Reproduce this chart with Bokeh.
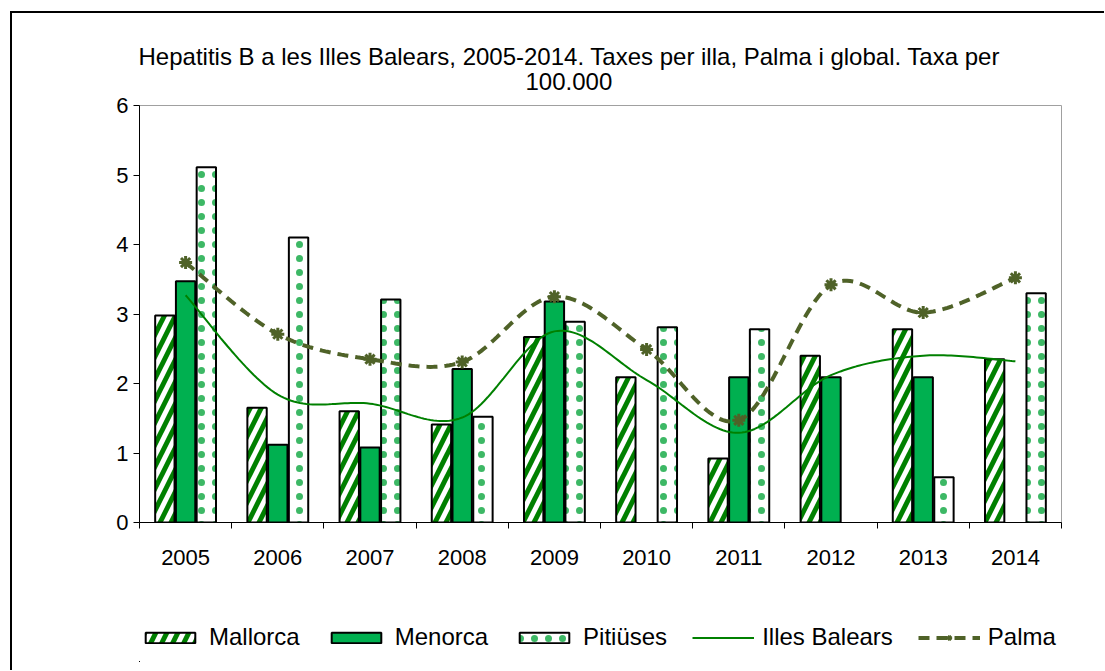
import numpy as np
from bokeh.plotting import figure
from bokeh.layouts import column
from bokeh.models import Range1d, FixedTicker, Legend, LegendItem, Title
from bokeh.embed import file_html
from bokeh.resources import INLINE

years = ["2005", "2006", "2007", "2008", "2009", "2010", "2011", "2012", "2013", "2014"]
mallorca = [2.98, 1.65, 1.60, 1.41, 2.67, 2.09, 0.92, 2.40, 2.78, 2.35]
menorca = [3.47, 1.12, 1.08, 2.21, 3.18, np.nan, 2.09, 2.09, 2.09, np.nan]
pitiuses = [5.11, 4.10, 3.21, 1.52, 2.89, 2.81, 2.78, np.nan, 0.65, 3.30]
illes_balears = [3.27, 1.84, 1.71, 1.51, 2.75, 2.05, 1.29, 2.12, 2.40, 2.32]
palma = [3.74, 2.71, 2.35, 2.31, 3.25, 2.49, 1.47, 3.42, 3.02, 3.52]
y_ticks = [0, 1, 2, 3, 4, 5, 6]
series_names = ["Mallorca", "Menorca", "Pitiüses", "Illes Balears", "Palma"]
title_lines = ["Hepatitis B a les Illes Balears, 2005-2014. Taxes per illa, Palma i global. Taxa per",
               "100.000"]

FONT = "Liberation Sans"
OLIVE = "#4F6228"
GREEN = "#008000"
MGREEN = "#00B050"

centers = [i + 0.5 for i in range(len(years))]

MAL_STYLE = dict(fill_color="white", line_color="black", line_width=2,
                 hatch_pattern="right_diagonal_line", hatch_color=GREEN,
                 hatch_weight=5, hatch_scale=22)
MEN_STYLE = dict(fill_color=MGREEN, line_color="black", line_width=2)
PIT_STYLE = dict(fill_color="white", line_color="black", line_width=2,
                 hatch_pattern="dot", hatch_color="#3DB865",
                 hatch_weight=1, hatch_scale=14)
IB_STYLE = dict(line_color=GREEN, line_width=2)
PL_STYLE = dict(line_color=OLIVE, line_width=4, line_dash="11 7")
PM_STYLE = dict(marker="asterisk", size=13, line_color=OLIVE, line_width=3)


def smooth(xs, ys, n=30):
    pts = np.array(list(zip(xs, ys)), dtype=float)
    ox, oy = [], []
    m = len(pts)
    for i in range(m - 1):
        p0 = pts[i - 1] if i > 0 else pts[i]
        p1 = pts[i]
        p2 = pts[i + 1]
        p3 = pts[i + 2] if i + 2 < m else pts[i + 1]
        c1 = p1 + (p2 - p0) / 6.0
        c2 = p2 - (p3 - p1) / 6.0
        t = np.linspace(0, 1, n)
        if i < m - 2:
            t = t[:-1]
        b = ((1 - t) ** 3)[:, None] * p1 + (3 * (1 - t) ** 2 * t)[:, None] * c1 \
            + (3 * (1 - t) * t ** 2)[:, None] * c2 + (t ** 3)[:, None] * p2
        ox.extend(b[:, 0].tolist())
        oy.extend(b[:, 1].tolist())
    return ox, oy


p = figure(frame_width=922, frame_height=417, output_backend="svg", toolbar_location=None,
           x_range=Range1d(0, 10), y_range=Range1d(0, 6),
           min_border_left=127, min_border_right=43, min_border_top=92,
           min_border_bottom=60)
p.background_fill_color = "white"
p.border_fill_color = "white"
p.outline_line_color = "#A0A0A0"
p.outline_line_width = 1
p.xgrid.grid_line_color = None
p.ygrid.grid_line_color = None
p.title.text = ""
p.title.visible = False

t2 = Title(text=title_lines[1], align="left", text_font=FONT, text_font_size="24px",
           text_font_style="normal", text_color="black", standoff=31, offset=386,
           text_line_height=0.75)
t1 = Title(text=title_lines[0], align="left", text_font=FONT, text_font_size="24px",
           text_font_style="normal", text_color="black", standoff=-28, offset=-1,
           text_line_height=1.0)
p.add_layout(t2, "above")
p.add_layout(t1, "above")

bw = 0.21
off = 0.225
p.vbar(x=[c - off for c in centers], top=mallorca, width=bw, bottom=0, **MAL_STYLE)
p.vbar(x=centers, top=menorca, width=bw, bottom=0, **MEN_STYLE)
p.vbar(x=[c + off for c in centers], top=pitiuses, width=bw, bottom=0, **PIT_STYLE)

sx, sy = smooth(centers, illes_balears)
p.line(sx, sy, **IB_STYLE)
px, py = smooth(centers, palma)
p.line(px, py, **PL_STYLE)
p.scatter(centers, palma, **PM_STYLE)

# axes
xa = p.xaxis[0]
xa.ticker = FixedTicker(ticks=centers, minor_ticks=list(range(len(years) + 1)))
xa.major_label_overrides = {c: y for c, y in zip(centers, years)}
xa.major_tick_line_color = None
xa.minor_tick_line_color = "black"
xa.minor_tick_out = 6
xa.minor_tick_in = 0
xa.axis_line_color = "black"
xa.major_label_text_font = FONT
xa.major_label_text_font_size = "22px"
xa.major_label_text_color = "black"
xa.major_label_standoff = 21

ya = p.yaxis[0]
ya.ticker = FixedTicker(ticks=y_ticks)
ya.minor_tick_line_color = None
ya.major_tick_out = 6
ya.major_tick_in = 0
ya.axis_line_color = "black"
ya.major_label_text_font = FONT
ya.major_label_text_font_size = "22px"
ya.major_label_text_color = "black"
ya.major_label_standoff = 5

# legend strip: a separate figure; its glyphs use the same series but lie outside its view
lf = figure(width=1092, height=80, output_backend="svg", toolbar_location=None,
            x_range=Range1d(100, 101), y_range=Range1d(100, 101),
            x_axis_type=None, y_axis_type=None,
            min_border_left=0, min_border_right=0, min_border_top=0, min_border_bottom=0)
lf.outline_line_color = None
lf.background_fill_color = "white"
lf.border_fill_color = "white"
lf.title.visible = False
g_mal = lf.vbar(x=centers, top=mallorca, width=bw, bottom=0, **MAL_STYLE)
g_men = lf.vbar(x=centers, top=menorca, width=bw, bottom=0, **MEN_STYLE)
g_pit = lf.vbar(x=centers, top=pitiuses, width=bw, bottom=0, **PIT_STYLE)
g_ib = lf.line(x=centers, y=illes_balears, **IB_STYLE)
g_pl = lf.line(x=centers, y=palma, **PL_STYLE)
g_pm = lf.scatter(x=centers, y=palma, **PM_STYLE)

legend = Legend(items=[
    LegendItem(label=series_names[0], renderers=[g_mal]),
    LegendItem(label=series_names[1], renderers=[g_men]),
    LegendItem(label=series_names[2], renderers=[g_pit]),
    LegendItem(label=series_names[3], renderers=[g_ib]),
    LegendItem(label=series_names[4], renderers=[g_pl, g_pm]),
], orientation="horizontal", location=(0, 11),
    glyph_width=62, glyph_height=13, label_standoff=8, spacing=25,
    padding=0, margin=0, border_line_color=None, background_fill_alpha=0,
    label_text_font=FONT, label_text_font_size="24px", label_text_color="black")
lf.add_layout(legend)

layout = column(p, lf, spacing=0)
layout.styles = {"border-left": "2px solid black", "border-top": "2px solid black",
                 "margin-left": "10px", "margin-top": "11px", "padding-bottom": "8px"}

open("out.html", "w").write(file_html(layout, INLINE))
